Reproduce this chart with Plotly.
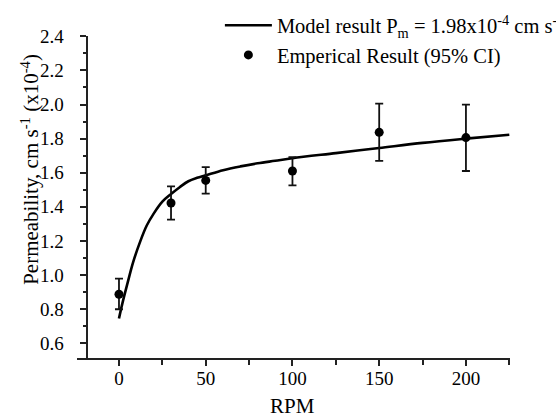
import plotly.graph_objects as go

# Empirical data (RPM, permeability x1e-4 cm/s, 95% CI bounds)
rpm = [0, 30, 50, 100, 150, 200]
perm = [0.887, 1.422, 1.555, 1.610, 1.837, 1.806]
ci_upper = [0.979, 1.520, 1.633, 1.692, 2.005, 1.999]
ci_lower = [0.799, 1.325, 1.477, 1.526, 1.669, 1.610]

# Model curve
model_rpm = [0, 2, 5, 8, 12, 16, 20, 25, 30, 35, 40, 45, 50, 60, 70, 80, 90, 100, 125, 150, 175, 200, 225]
model_perm = [0.745, 0.835, 0.955, 1.07, 1.19, 1.29, 1.36, 1.43, 1.475, 1.515, 1.55, 1.57, 1.585,
              1.615, 1.637, 1.655, 1.67, 1.685, 1.715, 1.745, 1.775, 1.80, 1.823]

x_ticks = [0, 50, 100, 150, 200]
y_ticks = [0.6, 0.8, 1.0, 1.2, 1.4, 1.6, 1.8, 2.0, 2.2, 2.4]

err_plus = [u - p for u, p in zip(ci_upper, perm)]
err_minus = [p - l for p, l in zip(perm, ci_lower)]

FONT = "Liberation Serif"

fig = go.Figure()
fig.add_trace(go.Scatter(
    x=model_rpm, y=model_perm, mode="lines",
    line=dict(color="black", width=2.6, shape="spline", smoothing=1.0),
    name="Model result P<sub>m</sub> = 1.98x10<sup>-4</sup> cm s<sup>-1</sup>",
))
fig.add_trace(go.Scatter(
    x=rpm, y=perm, mode="markers",
    marker=dict(color="black", size=9),
    error_y=dict(type="data", symmetric=False, array=err_plus, arrayminus=err_minus,
                 color="#111", thickness=1.8, width=4),
    name="Emperical Result (95% CI)",
))

fig.update_layout(
    width=556, height=419,
    margin=dict(l=77, r=46, t=36, b=61, autoexpand=False),
    paper_bgcolor="white", plot_bgcolor="white",
    font=dict(family=FONT, color="black", size=19),
    showlegend=True,
    legend=dict(x=0.33, y=1.095, xanchor="left", yanchor="top",
                font=dict(size=20.5, family=FONT), bgcolor="rgba(0,0,0,0)",
                itemwidth=47, tracegroupgap=0),
    xaxis=dict(
        range=[-24.2, 225.4], tickvals=x_ticks, showgrid=False, zeroline=False,
        showline=True, linecolor="#222", linewidth=1.8,
        ticks="outside", ticklen=6, tickwidth=1.5, tickcolor="#222",
        minor=dict(tickvals=[25, 75, 125, 175, 225], ticks="outside", ticklen=5, tickwidth=1.5, tickcolor="#222"),
        tickfont=dict(size=19, family=FONT),
        ticklabelstandoff=-4,
    ),
    yaxis=dict(
        range=[0.513, 2.402], tickvals=y_ticks, ticktext=[f"{v:.1f}" for v in y_ticks],
        showgrid=False, zeroline=False,
        anchor="free", position=0.022,
        showline=True, linecolor="#222", linewidth=1.8,
        ticks="outside", ticklen=6, tickwidth=1.5, tickcolor="#222",
        minor=dict(tickvals=[0.7, 0.9, 1.1, 1.3, 1.5, 1.7, 1.9, 2.1, 2.3], ticks="outside", ticklen=3, tickwidth=1.5, tickcolor="#222"),
        tickfont=dict(size=19, family=FONT),
        ticklabelstandoff=12,
    ),
    annotations=[
        dict(text="Permeability, cm s<sup>-1</sup> (x10<sup>-4</sup>)", textangle=-90,
             xref="paper", yref="paper", x=-0.108, y=0.585, xanchor="center", yanchor="middle",
             showarrow=False, font=dict(size=21, family=FONT, color="black")),
        dict(text="RPM", xref="paper", yref="paper", x=0.498, y=-0.15,
             xanchor="center", yanchor="middle", showarrow=False,
             font=dict(size=21, family=FONT, color="black")),
    ],
)

fig.write_html("out.html", config={"displayModeBar": False},
               post_script="document.body.style.margin='0';")
